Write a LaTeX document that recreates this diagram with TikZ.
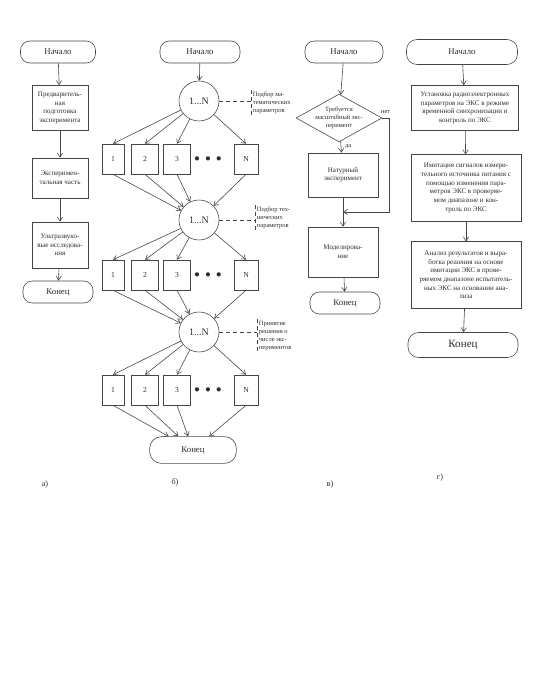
\documentclass[tikz,border=0pt]{standalone}
\usepackage{fontspec}
\setmainfont{Liberation Serif}
\usetikzlibrary{arrows.meta, shapes.geometric, positioning}
\definecolor{myline}{RGB}{70,70,70}
\definecolor{mytext}{RGB}{45,45,45}
\tikzset{
  term/.style={rectangle, draw=myline, rounded corners=8pt, minimum height=0.66cm,
    font=\fontsize{7.5}{9}\selectfont, text=mytext, line width=0.5pt},
  box/.style={rectangle, draw=myline, align=center, inner sep=1pt,
    font=\fontsize{6}{7.4}\selectfont, text=mytext, line width=0.5pt},
  cell/.style={rectangle, draw=myline, minimum height=0.9cm,
    font=\fontsize{6.5}{7}\selectfont, text=mytext, line width=0.5pt},
  loopc/.style={circle, draw=myline, minimum size=1.2cm, inner sep=0pt,
    font=\fontsize{8.5}{9}\selectfont, text=mytext, line width=0.5pt},
  cond/.style={diamond, draw=myline, aspect=1.8, inner sep=0pt, align=center,
    minimum width=2.3cm, minimum height=1.28cm,
    font=\fontsize{5.5}{6.6}\selectfont, text=mytext, line width=0.5pt},
  note/.style={align=left, anchor=west, inner sep=1.5pt,
    font=\fontsize{5.5}{6.8}\selectfont, text=mytext},
  arrow/.style={-{Straight Barb[length=3.5pt, width=4.5pt]}, myline, line width=0.5pt},
  line/.style={myline, line width=0.5pt},
  dline/.style={myline, dashed, line width=0.5pt},
  caption/.style={font=\fontsize{7}{8}\selectfont, text=mytext}
}

\begin{document}
\begin{tikzpicture}[x=0.03cm, y=-0.03cm]
  \useasboundingbox (0,0) rectangle (553,700);
  % a) single run
  \node[term, minimum width=2.25cm] (a0) at (58,52) {Начало};
  \node[box, minimum width=1.68cm, minimum height=1.35cm] (a1) at (60,108)
       {Предваритель-\\ная\\подготовка\\эксперимента};
  \node[box, minimum width=1.68cm, minimum height=1.2cm] (a2) at (60,178)
       {Эксперимен-\\тальная часть};
  \node[box, minimum width=1.68cm, minimum height=1.38cm] (a3) at (60,245)
       {Ультразвуко-\\вые исследова-\\ния};
  \node[term, minimum width=2.1cm] (a4) at (58,292) {Конец};
  \draw[arrow] (a0) -- (a1);
  \draw[arrow] (a1) -- (a2);
  \draw[arrow] (a2) -- (a3);
  \draw[arrow] (a3) -- (a4);
  \node[caption] (capa) at (45,485) {а)};

  % b) nested loops
  \node[term, minimum width=2.4cm] (b0) at (200,52) {Начало};
  \node[loopc] (c1) at (199,101) {1...N};
  \node[loopc] (c2) at (199,220) {1...N};
  \node[loopc] (c3) at (199,332) {1...N};
  \node[term, minimum width=2.6cm, minimum height=0.8cm, rounded corners=10pt] (b9) at (193,450) {Конец};
  \draw[arrow] (b0) -- (c1);
  \foreach \r/\y in {1/159, 2/275, 3/390} {
    \node[cell, minimum width=0.66cm] (r\r a) at (113,\y) {1};
    \node[cell, minimum width=0.8cm] (r\r b) at (145,\y) {2};
    \node[cell, minimum width=0.8cm] (r\r c) at (177,\y) {3};
    \node[font=\fontsize{9}{9}\selectfont, text=mytext] (r\r d) at (208,\y) {$\bullet\;\bullet\;\bullet$};
    \node[cell, minimum width=0.72cm] (r\r n) at (246,\y) {N};
  }
  \foreach \r/\c/\nx in {1/c1/c2, 2/c2/c3, 3/c3/b9} {
    \foreach \k in {a, b, c, n} {
      \draw[arrow] (\c) -- (r\r \k.north);
      \draw[arrow] (r\r \k.south) -- (\nx);
    }
  }
  % notes
  \node[note] (n1) at (251,103) {Подбор ма-\\тематических\\параметров};
  \node[note] (n2) at (255,218) {Подбор тех-\\нических\\параметров};
  \node[note] (n3) at (257,336) {Принятие\\решения о\\числе экс-\\периментов};
  \foreach \n/\c in {n1/c1, n2/c2, n3/c3} {
    \draw[dline] (\n.north west) -- (\n.south west);
    \draw[dline] (\c) -- (\c -| \n.west);
  }
  \node[caption] (capb) at (175,482) {б)};

  % c) choice
  \node[term, minimum width=2.34cm] (v0) at (344,52) {Начало};
  \node[cond] (v1) at (339,118) {Требуется\\масштабный экс-\\перимент};
  \node[box, minimum width=2.1cm, minimum height=1.32cm] (v2) at (343,175)
       {Натурный\\эксперимент};
  \node[box, minimum width=2.1cm, minimum height=1.5cm] (v3) at (343,252)
       {Моделирова-\\ние};
  \node[term, minimum width=2.1cm] (v4) at (345,303) {Конец};
  \coordinate (vj) at (343,212);
  \coordinate (vr) at (389,118);
  \draw[arrow] (v0) -- (v1);
  \draw[arrow] (v1) -- node[right, pos=0.45, font=\fontsize{5.5}{6}\selectfont, text=mytext] {да} (v2);
  \draw[line] (v2) -- (vj);
  \draw[arrow] (vj) -- (v3);
  \draw[line] (v1.east) -- node[above, font=\fontsize{5.5}{6}\selectfont, text=mytext] {нет} (vr);
  \draw[arrow] (vr) |- (vj);
  \draw[arrow] (v3) -- (v4);
  \node[caption] (capv) at (330,485) {в)};

  % d) imitation
  \node[term, minimum width=3.33cm, minimum height=0.75cm, rounded corners=9pt] (g0) at (462,52) {Начало};
  \node[box, minimum width=3.2cm, minimum height=1.35cm] (g1) at (465,108)
       {Установка радиоэлектронных\\параметров на ЭКС в режиме\\временной синхронизации и\\контроль по ЭКС};
  \node[box, minimum width=3.3cm, minimum height=2cm] (g2) at (466,188)
       {Имитация сигналов измери-\\тельного источника питания с\\помощью изменения пара-\\метров ЭКС в проверяе-\\мом диапазоне и кон-\\троль по ЭКС};
  \node[box, minimum width=3.3cm, minimum height=2cm] (g3) at (466,275)
       {Анализ результатов и выра-\\ботка решения на основе\\имитации ЭКС в прове-\\ряемом диапазоне испытатель-\\ных ЭКС на основании ана-\\лиза};
  \node[term, minimum width=3.3cm, minimum height=0.75cm, rounded corners=9pt,
        font=\fontsize{9.5}{10}\selectfont] (g4) at (463,345) {Конец};
  \draw[arrow] (g0) -- (g1);
  \draw[arrow] (g1) -- (g2);
  \draw[arrow] (g2) -- (g3);
  \draw[arrow] (g3) -- (g4);
  \node[caption] (capg) at (440,478) {г)};
\end{tikzpicture}
\end{document}
